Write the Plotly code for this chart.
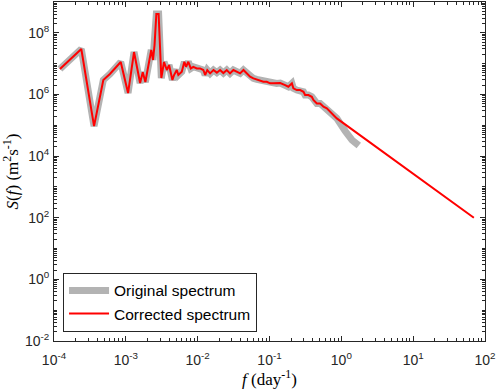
import plotly.graph_objects as go

# Common part of the spectrum (frequency in day^-1, S in m^2 s^-1)
f_common = [1.21e-4, 2.40e-4, 3.61e-4, 4.86e-4, 6.0e-4, 8.49e-4, 1.074e-3, 1.30e-3, 1.58e-3, 1.72e-3,
            1.87e-3, 2.26e-3, 2.39e-3, 2.51e-3, 2.66e-3, 2.86e-3, 3.12e-3, 3.40e-3, 3.72e-3, 4.00e-3,
            4.45e-3, 4.69e-3, 5.12e-3, 5.38e-3, 6.01e-3, 6.53e-3, 6.89e-3, 7.41e-3, 8.02e-3, 8.71e-3,
            9.70e-3, 1.08e-2, 1.20e-2, 1.27e-2, 1.36e-2, 1.49e-2, 1.66e-2, 1.85e-2, 2.05e-2, 2.28e-2,
            2.54e-2, 2.82e-2, 3.14e-2, 3.51e-2, 3.90e-2, 4.34e-2, 4.83e-2, 5.37e-2, 5.97e-2, 6.65e-2,
            7.40e-2, 8.22e-2, 9.16e-2, 0.102, 0.113, 0.126, 0.141, 0.165, 0.183, 0.205,
            0.215, 0.240, 0.267, 0.297, 0.313, 0.348, 0.388, 0.408, 0.456, 0.507,
            0.564, 0.628, 0.698, 0.776, 0.865]
S_common = [6.7e6, 2.98e7, 9.4e4, 2.94e6, 4.6e6, 1.13e7, 1.11e6, 2.38e7, 2.35e6, 5.3e6,
            2.53e6, 2.77e7, 1.31e7, 4.0e7, 4.07e8, 4.07e8, 3.4e6, 1.13e7, 6.2e6, 9.0e6,
            2.94e6, 4.27e6, 6.2e6, 4.27e6, 5.46e6, 1.15e7, 7.9e6, 1.15e7, 7.0e6, 7.9e6,
            7.0e6, 7.0e6, 6.2e6, 4.27e6, 6.2e6, 4.84e6, 6.2e6, 5.1e6, 6.2e6, 4.95e6,
            6.2e6, 4.84e6, 6.2e6, 5.46e6, 4.84e6, 6.2e6, 4.84e6, 3.76e6, 3.33e6, 3.09e6,
            2.94e6, 2.58e6, 2.58e6, 2.29e6, 2.29e6, 2.29e6, 2.35e6, 2.02e6, 1.78e6, 2.29e6,
            1.58e6, 1.39e6, 1.39e6, 1.22e6, 9.6e5, 9.6e5, 8.4e5, 6.6e5, 5.1e5, 5.1e5,
            4.0e5, 3.54e5, 2.74e5, 2.14e5, 1.67e5]

# Original spectrum high-frequency tail
f_orig_tail = [1.13, 1.41, 1.75]
S_orig_tail = [6.5e4, 3.3e4, 2.2e4]

# Corrected spectrum (-5/3 extension) tail end point
f_corr_tail = [70.0]
S_corr_tail = [1.0e2]

x_exps = [-4, -3, -2, -1, 0, 1, 2]
y_exps = [-2, 0, 2, 4, 6, 8]

f_orig = f_common + f_orig_tail
S_orig = S_common + S_orig_tail
f_corr = f_common + f_corr_tail
S_corr = S_common + S_corr_tail

fig = go.Figure()
fig.add_trace(go.Scatter(x=f_orig, y=S_orig, mode="lines", name="Original spectrum",
                         line=dict(color="#b3b3b3", width=7)))
fig.add_trace(go.Scatter(x=f_corr, y=S_corr, mode="lines", name="Corrected spectrum",
                         line=dict(color="#ff0000", width=2)))

def minor_vals(lo, hi):
    return [m * 10 ** e for e in range(lo, hi) for m in range(2, 10)]

tickfont = dict(family="Liberation Sans, Arial", size=14, color="#262626")
fig.update_layout(
    width=498, height=389,
    margin=dict(l=54, r=13, t=2, b=48),
    paper_bgcolor="white", plot_bgcolor="white",
    showlegend=True,
    legend=dict(x=0.021, y=0.027, xanchor="left", yanchor="bottom",
                bordercolor="#262626", borderwidth=1, bgcolor="white",
                font=dict(family="Liberation Sans, Arial", size=15.5, color="#000000"),
                tracegroupgap=0, itemwidth=40),
    xaxis=dict(type="log", range=[-4, 2], automargin=False,
               tickvals=[10 ** e for e in x_exps],
               ticktext=[f"10<sup>{e}</sup>" for e in x_exps],
               ticks="inside", ticklen=5, tickcolor="#262626", ticklabelstandoff=6,
               minor=dict(tickvals=minor_vals(-4, 2), ticks="inside", ticklen=3, tickcolor="#262626"),
               showline=True, linecolor="#262626", linewidth=1, mirror="ticks",
               showgrid=False, zeroline=False, tickfont=tickfont,
               title=dict(text="<i>f</i> (day<sup>-1</sup>)", standoff=3,
                          font=dict(family="Liberation Serif, Times New Roman", size=17, color="#000"))),
    yaxis=dict(type="log", range=[-2, 9], automargin=False,
               tickvals=[10.0 ** e for e in y_exps],
               ticktext=[f"10<sup>{e}</sup>" for e in y_exps],
               ticks="inside", ticklen=5, tickcolor="#262626", ticklabelstandoff=1,
               minor=dict(tickvals=[10.0 ** e for e in range(-1, 10, 2)] + minor_vals(-2, 9),
                          ticks="inside", ticklen=3, tickcolor="#262626"),
               showline=True, linecolor="#262626", linewidth=1, mirror="ticks",
               showgrid=False, zeroline=False, tickfont=tickfont,
               title=dict(text="<i>S</i>(<i>f</i>) (m<sup>2</sup>s<sup>-1</sup>)", standoff=3,
                          font=dict(family="Liberation Serif, Times New Roman", size=17, color="#000"))),
)

fig.write_html("out.html", config={"displayModeBar": False},
               post_script="document.body.style.margin='0';")
